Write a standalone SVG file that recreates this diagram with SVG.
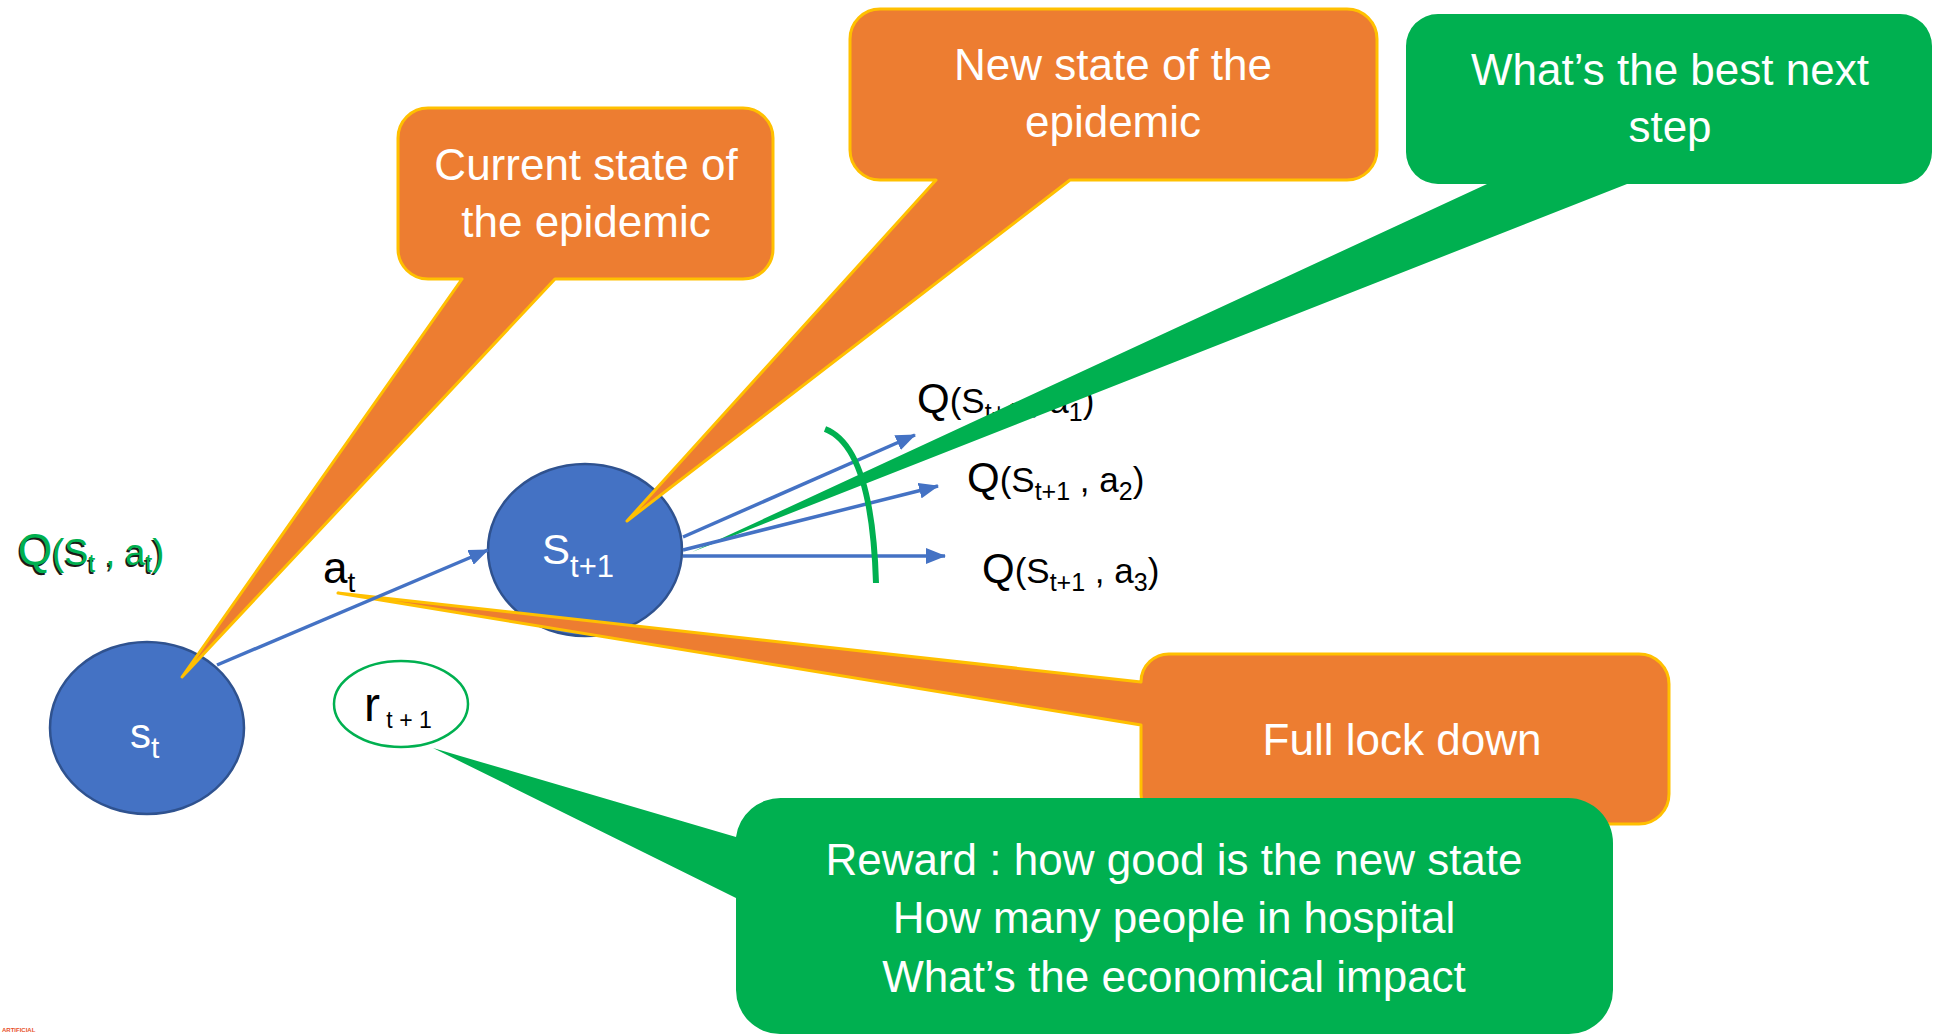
<svg xmlns="http://www.w3.org/2000/svg" width="1934" height="1034" viewBox="0 0 1934 1034">
<style>
  text { font-family: "Liberation Sans", Arial, sans-serif; }
  .state { fill: #4472C4; stroke: #2F528F; stroke-width: 2.5; }
  .wt { fill: #FFFFFF; }
  .bk { fill: #000000; }
  .orange { fill: #ED7D31; stroke: #FFC000; stroke-width: 3; stroke-linejoin: round; }
  .green { fill: #00B050; }
  .ctext { font-size: 44px; fill: #FFFFFF; text-anchor: middle; }
  .arrow { stroke: #4472C4; stroke-width: 3.5; fill: none; }
  .qt { font-size: 35px; fill: #000000; }
  .qbig { font-size: 42px; }
  .qsub { font-size: 25px; }
</style>
<defs>
  <marker id="ah" markerUnits="userSpaceOnUse" markerWidth="20" markerHeight="16" viewBox="0 0 20 16" refX="19" refY="8" orient="auto">
    <path d="M0,0 L20,8 L0,16 Z" fill="#4472C4"/>
  </marker>
</defs>

<!-- left Q label -->
<g id="q-st-at">
  <text class="qt" x="16.5" y="566.5" style="fill:#1a1a1a;font-size:36px"><tspan style="font-size:44px">Q</tspan>(S<tspan class="qsub" dy="7">t</tspan><tspan dy="-7"> , a</tspan><tspan class="qsub" dy="7">t</tspan><tspan dy="-7">)</tspan></text>
  <text class="qt" x="18" y="565" style="fill:#00B050;font-size:36px"><tspan style="font-size:44px">Q</tspan>(S<tspan class="qsub" dy="7">t</tspan><tspan dy="-7"> , a</tspan><tspan class="qsub" dy="7">t</tspan><tspan dy="-7">)</tspan></text>
</g>

<!-- state nodes -->
<g id="node-st">
  <ellipse class="state" cx="147" cy="728" rx="97" ry="86"/>
  <text class="wt" x="130" y="748" font-size="42">s<tspan font-size="30" dy="10">t</tspan></text>
</g>
<g id="node-st1">
  <ellipse class="state" cx="585" cy="550" rx="97" ry="86"/>
  <text class="wt" x="542" y="564" font-size="42">S<tspan font-size="31" dy="13">t+1</tspan></text>
</g>
<g id="node-reward">
  <ellipse cx="401" cy="704" rx="67" ry="43" fill="#FFFFFF" stroke="#00B050" stroke-width="2.5"/>
  <text class="bk" x="364" y="721" font-size="48">r<tspan font-size="23" dy="7"> t + 1</tspan></text>
</g>

<!-- action label -->
<g id="label-at">
  <text class="bk" x="323" y="583" font-size="44">a<tspan font-size="28" dy="9">t</tspan></text>
</g>

<!-- Q labels for next state -->
<g id="q-labels">
  <text class="qt" x="917" y="413"><tspan class="qbig">Q</tspan>(S<tspan class="qsub" dy="8">t+1</tspan><tspan dy="-8"> , a</tspan><tspan class="qsub" dy="8">1</tspan><tspan dy="-8">)</tspan></text>
  <text class="qt" x="967" y="492"><tspan class="qbig">Q</tspan>(S<tspan class="qsub" dy="8">t+1</tspan><tspan dy="-8"> , a</tspan><tspan class="qsub" dy="8">2</tspan><tspan dy="-8">)</tspan></text>
  <text class="qt" x="982" y="583"><tspan class="qbig">Q</tspan>(S<tspan class="qsub" dy="8">t+1</tspan><tspan dy="-8"> , a</tspan><tspan class="qsub" dy="8">3</tspan><tspan dy="-8">)</tspan></text>
</g>

<!-- callouts -->
<g id="callout-current">
  <path class="orange" d="M428,108 H743 A30,30 0 0 1 773,138 V249 A30,30 0 0 1 743,279 H555 L182,677 L462,279 H428 A30,30 0 0 1 398,249 V138 A30,30 0 0 1 428,108 Z"/>
  <text class="ctext" x="586" y="180">Current state of</text>
  <text class="ctext" x="586" y="237">the epidemic</text>
</g>
<g id="callout-new">
  <path class="orange" d="M880,9 H1347 A30,30 0 0 1 1377,39 V150 A30,30 0 0 1 1347,180 H1070 L627,521 L936,180 H880 A30,30 0 0 1 850,150 V39 A30,30 0 0 1 880,9 Z"/>
  <text class="ctext" x="1113" y="80">New state of the</text>
  <text class="ctext" x="1113" y="137">epidemic</text>
</g>
<g id="callout-lockdown">
  <path class="orange" d="M1171,654 H1639 A30,30 0 0 1 1669,684 V794 A30,30 0 0 1 1639,824 H1171 A30,30 0 0 1 1141,794 V725 L338,593 L1141,682 A28,28 0 0 1 1171,654 Z"/>
  <text class="ctext" x="1402" y="755">Full lock down</text>
</g>
<g id="callout-best">
  <path class="green" d="M1438,14 H1900 A32,32 0 0 1 1932,46 V152 A32,32 0 0 1 1900,184 H1627 L692,552 L1487,184 H1438 A32,32 0 0 1 1406,152 V46 A32,32 0 0 1 1438,14 Z"/>
  <text class="ctext" x="1670" y="85">What’s the best next</text>
  <text class="ctext" x="1670" y="142">step</text>
</g>

<!-- connectors -->
<g id="connectors">
  <line class="arrow" x1="217" y1="665" x2="488" y2="550" marker-end="url(#ah)"/>
  <line class="arrow" x1="683" y1="537" x2="915" y2="435" marker-end="url(#ah)"/>
  <line class="arrow" x1="683" y1="550" x2="938" y2="486" marker-end="url(#ah)"/>
  <line class="arrow" x1="683" y1="556" x2="945" y2="556" marker-end="url(#ah)"/>
  <path d="M825,429 Q872,447 876,583" fill="none" stroke="#00B050" stroke-width="6"/>
</g>

<g id="callout-reward">
  <path class="green" d="M781,798 H1568 A45,45 0 0 1 1613,843 V990 A44,44 0 0 1 1569,1034 H780 A44,44 0 0 1 736,990 V898 L433,748 L736,837 A45,45 0 0 1 781,798 Z"/>
  <text class="ctext" x="1174" y="875">Reward : how good is the new state</text>
  <text class="ctext" x="1174" y="933">How many people in hospital</text>
  <text class="ctext" x="1174" y="992">What’s the economical impact</text>
</g>

<text x="2" y="1032" font-size="6" font-weight="bold" fill="#E8512A">ARTIFICIAL</text>
</svg>
